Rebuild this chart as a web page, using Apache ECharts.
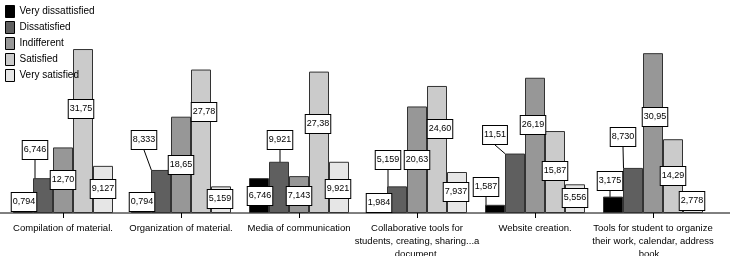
<!DOCTYPE html>
<html>
<head>
<meta charset="utf-8">
<script src="https://cdn.jsdelivr.net/npm/echarts@6/dist/echarts.min.js"></script>
<style>
  html, body { margin: 0; padding: 0; background: #fff; }
  #chart { width: 730px; height: 256px; }
</style>
</head>
<body>
<div id="chart"></div>
<script>
const categories = [
  "Compilation of material.",
  "Organization of material.",
  "Media of communication",
  "Collaborative tools for\nstudents, creating, sharing...a\ndocument.",
  "Website creation.",
  "Tools for student to organize\ntheir work, calendar, address\nbook...",
];

const seriesNames = ["Very dissattisfied", "Dissatisfied", "Indifferent", "Satisfied", "Very satisfied"];

const veryDissatisfied = [0.794, 0.794, 6.746, 1.984, 1.587, 3.175];
const dissatisfied = [6.746, 8.333, 9.921, 5.159, 11.51, 8.73];
const indifferent = [12.7, 18.65, 7.143, 20.63, 26.19, 30.95];
const satisfied = [31.75, 27.78, 27.38, 24.6, 15.87, 14.29];
const verySatisfied = [9.127, 5.159, 9.921, 7.937, 5.556, 2.778];

const colors = ["#000000", "#5f5f5f", "#979797", "#cbcbcb", "#e6e6e6"];

// label placement: [dx from bar centre, px above baseline], per series / category
const labelSpots = [
  [[1, 11], [1, 11], [1, 17], [2, 10], [-9, 26], [-3, 32]],
  [[-8, 63], [-17, 73], [1, 73], [-9, 53], [-20, 78], [-10, 76]],
  [[0, 33], [0, 48], [0, 17], [0, 53], [-2, 88], [2, 96]],
  [[-2, 104], [3, 101], [-1, 89], [3, 84], [0, 42], [0, 37]],
  [[0, 24], [-1, 14], [-1, 24], [-1, 21], [0, 15], [-1, 12]],
];
const leaders = [
  [false, false, false, false, true, true],
  [true, true, true, true, true, true],
  [false, false, false, false, false, false],
  [false, false, false, false, false, false],
  [false, false, false, false, false, false],
];

const values = [veryDissatisfied, dissatisfied, indifferent, satisfied, verySatisfied];
const font = "'Liberation Sans Narrow', 'Liberation Sans', sans-serif";

const fmt = (v) => (v < 10 ? v.toFixed(3) : v.toFixed(2)).replace(".", ",");

const chart = echarts.init(document.getElementById("chart"));

chart.setOption({
  animation: false,
  legend: {
    data: seriesNames,
    orient: "vertical",
    left: 0,
    top: 0,
    itemWidth: 9,
    itemHeight: 12,
    itemGap: 3,
    icon: "rect",
    itemStyle: { borderColor: "#000", borderWidth: 1 },
    textStyle: { fontFamily: font, fontSize: 10, color: "#000", lineHeight: 12 },
  },
  grid: { left: 4, right: 18, top: 40, bottom: 43, outerBoundsMode: "none", containLabel: false },
  xAxis: {
    type: "category",
    data: categories,
    axisLine: { show: false },
    axisTick: { show: true, alignWithLabel: true, length: 5, lineStyle: { color: "#000" } },
    axisLabel: { interval: 0, margin: 9, fontFamily: font, fontSize: 9.5, lineHeight: 13, color: "#000" },
  },
  yAxis: { type: "value", min: 0, max: 33.5, show: false, splitLine: { show: false } },
  series: values.map((vals, s) => ({
    name: seriesNames[s],
    type: "bar",
    barWidth: 20,
    barGap: "0%",
    itemStyle: { color: colors[s], borderColor: "#333", borderWidth: 1 },
    data: vals.map((v, i) => ({ value: v, labelLine: { show: leaders[s][i] } })),
    label: {
      show: true,
      formatter: (p) => fmt(p.value),
      fontFamily: font,
      fontSize: 9,
      color: "#000",
      backgroundColor: "#fff",
      borderColor: "#000",
      borderWidth: 1,
      padding: [5, 1, 4, 1],
    },
    labelLine: { show: false, lineStyle: { color: "#000", width: 1 } },
    labelLayout: (p) => {
      const spot = labelSpots[p.seriesIndex][p.dataIndex];
      return {
        x: p.rect.x + p.rect.width / 2 + spot[0],
        y: p.rect.y + p.rect.height - spot[1],
        align: "center",
        verticalAlign: "middle",
      };
    },
  })),
});

// baseline runs the full width of the picture
const y0 = chart.convertToPixel({ yAxisIndex: 0 }, 0);
chart.setOption({
  graphic: [{
    type: "line",
    shape: { x1: 0, y1: y0, x2: 730, y2: y0 },
    style: { stroke: "#000", lineWidth: 1 },
    z: 1,
  }],
});
</script>
</body>
</html>
